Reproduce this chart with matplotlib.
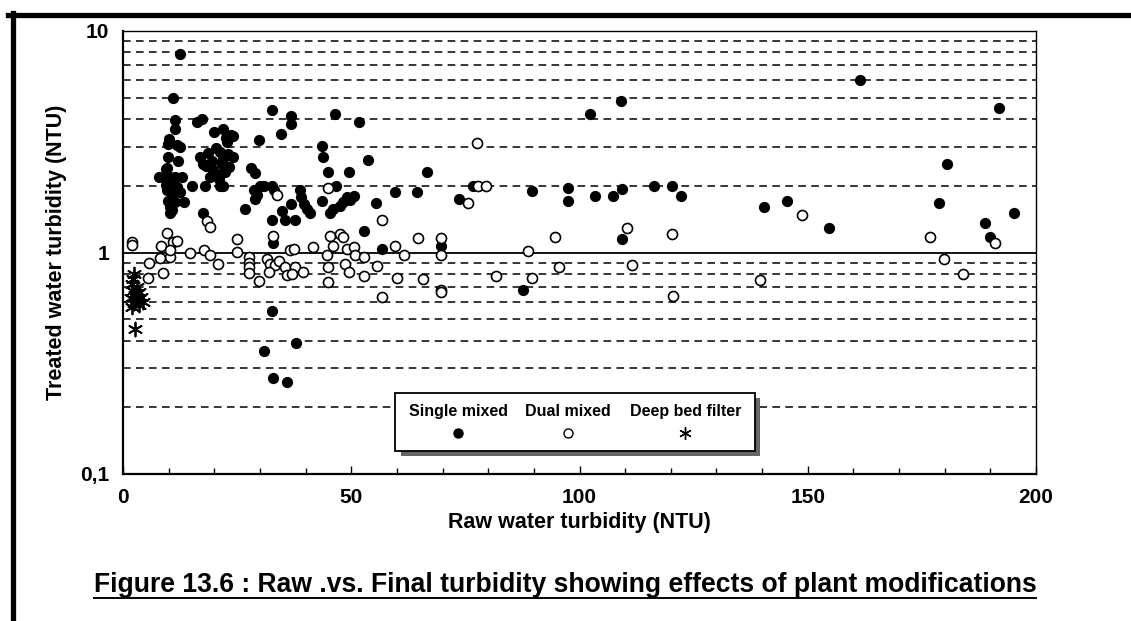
import numpy as np
import matplotlib
matplotlib.use('Agg')
import matplotlib.pyplot as plt
from matplotlib.ticker import LogLocator, MultipleLocator, NullFormatter
from matplotlib.patches import Rectangle
from matplotlib.lines import Line2D

plt.rcParams['font.family'] = ['Liberation Sans', 'DejaVu Sans']
plt.rcParams['font.weight'] = 'bold'

# --- data (raw NTU, treated NTU) ---
single_x = [12.5, 10.9, 11.5, 11.3, 16.2, 17.2, 32.7, 36.7, 36.7, 34.7, 29.8, 46.5, 51.6,
            10.0, 9.9, 12.5, 11.8, 9.9, 12.1, 9.6, 9.4, 7.8, 9.9, 11.4, 12.9, 11.0, 9.9,
            9.5, 10.3, 11.8, 9.6, 12.4, 10.7, 9.9, 11.0, 11.4, 13.4, 10.4, 10.7, 10.3,
            15.2, 18.0, 21.3, 22.0, 17.5, 16.9, 18.6, 19.5, 20.3, 21.2, 22.0, 23.0, 24.0,
            18.2, 19.8, 21.6, 23.2, 20.5, 22.4, 19.0, 21.0, 17.6, 20.0, 21.8, 22.6, 23.6,
            24.2, 22.8, 28.0, 28.9, 26.8, 28.6, 30.0, 30.8, 32.6, 29.3, 28.9, 33.0, 32.7,
            34.8, 35.5, 37.7, 36.8, 38.7, 39.1, 39.7, 40.2, 40.9, 43.6, 43.8, 44.8, 43.7,
            45.4, 46.1, 47.6, 48.3, 49.0, 50.5, 49.8, 46.7, 49.6, 53.6, 55.5, 59.6, 64.5,
            66.6, 52.7, 56.7, 32.8, 69.7, 73.5, 76.6, 89.5, 97.5, 97.5, 87.6, 102.4, 109.2,
            103.4, 107.4, 109.4, 116.3, 120.3, 122.3, 109.4, 140.4, 145.5, 154.7, 161.5,
            178.7, 180.6, 188.9, 190.0, 191.9, 195.1, 32.7, 37.8, 30.9, 32.9, 36.0]
single_y = [7.9, 5.0, 3.95, 3.62, 3.9, 4.0, 4.42, 4.13, 3.79, 3.41, 3.21, 4.23, 3.90,
            3.27, 3.10, 3.0, 3.05, 2.69, 2.6, 2.40, 2.38, 2.20, 2.22, 2.19, 2.19, 2.09, 2.11,
            2.02, 1.97, 1.97, 1.91, 1.87, 1.81, 1.70, 1.70, 1.69, 1.69, 1.60, 1.55, 1.50,
            1.99, 1.99, 1.99, 1.99, 1.50, 2.71, 2.80, 2.60, 2.95, 2.85, 2.65, 2.78, 2.70,
            2.45, 2.35, 2.50, 2.42, 2.25, 2.30, 2.20, 2.15, 2.50, 3.49, 3.62, 3.30, 3.40,
            3.35, 3.15, 2.40, 2.29, 1.57, 1.91, 1.99, 1.99, 1.99, 1.81, 1.75, 1.91, 1.40,
            1.54, 1.40, 1.40, 1.66, 1.91, 1.78, 1.66, 1.57, 1.50, 3.02, 2.70, 2.31, 1.71,
            1.50, 1.57, 1.63, 1.69, 1.78, 1.80, 1.72, 2.0, 2.30, 2.62, 1.67, 1.87, 1.87,
            2.30, 1.25, 1.04, 1.10, 1.07, 1.74, 2.0, 1.89, 1.96, 1.70, 0.68, 4.2, 4.82,
            1.79, 1.80, 1.93, 1.99, 2.0, 1.80, 1.15, 1.60, 1.71, 1.29, 6.03,
            1.67, 2.5, 1.36, 1.17, 4.50, 1.50, 0.547, 0.39, 0.361, 0.271, 0.26]

dual_x = [1.9, 1.9, 9.6, 8.3, 11.0, 11.8, 10.3, 10.2, 5.7, 8.0, 8.7, 5.5, 14.7, 17.8, 19.1,
          20.9, 24.9, 24.9, 27.7, 27.7, 27.7, 27.7, 29.9, 31.5, 32.2, 33.3, 34.1, 35.5, 36.5,
          37.4, 37.7, 35.9, 37.0, 39.5, 32.0, 32.8, 41.7, 45.4, 46.1, 47.6, 48.3, 49.0, 50.5,
          50.9, 44.7, 45.0, 45.0, 48.7, 49.4, 52.7, 52.7, 55.6, 56.7, 59.6, 60.0, 56.7, 18.3,
          19.0, 33.8, 44.8, 61.6, 64.6, 65.7, 69.7, 69.7, 69.7, 69.7, 75.6, 77.6, 77.8, 79.5,
          81.6, 88.7, 89.6, 94.6, 95.5, 110.4, 111.4, 120.3, 120.5, 139.5, 148.7, 176.7,
          179.8, 183.9, 191.0]
dual_y = [1.11, 1.08, 1.23, 1.075, 1.11, 1.13, 0.95, 1.03, 0.90, 0.94, 0.81, 0.765, 0.99,
          1.03, 0.97, 0.89, 1.15, 1.01, 0.95, 0.90, 0.86, 0.81, 0.74, 0.936, 0.89, 0.88,
          0.92, 0.86, 1.03, 1.04, 0.86, 0.79, 0.80, 0.82, 0.815, 1.19, 1.06, 1.19, 1.075,
          1.21, 1.17, 1.04, 1.06, 0.97, 0.97, 0.86, 0.735, 0.89, 0.815, 0.95, 0.78, 0.865,
          0.63, 1.065, 0.77, 1.40, 1.39, 1.31, 1.81, 1.95, 0.97, 1.16, 0.76, 1.16, 0.97,
          0.674, 0.66, 1.68, 3.11, 2.0, 2.0, 0.78, 1.02, 0.765, 1.18, 0.858, 1.29, 0.876,
          1.21, 0.637, 0.753, 1.48, 1.18, 0.933, 0.80, 1.10]

deep_x = [2.5, 2.2, 2.0, 3.0, 2.2, 3.4, 2.6, 4.0, 1.8, 3.0, 4.4, 2.4, 3.6, 2.0, 2.6]
deep_y = [0.80, 0.76, 0.72, 0.70, 0.67, 0.66, 0.64, 0.63, 0.62, 0.61, 0.60, 0.59, 0.58,
          0.57, 0.45]

series_names = ['Single mixed', 'Dual mixed', 'Deep bed filter']
x_ticks = [0, 50, 100, 150, 200]
y_ticks = [0.1, 1, 10]
y_tick_labels = ['0,1', '1', '10']

W, H = 1131, 621
fig = plt.figure(figsize=(W / 100, H / 100), dpi=100)
ax = fig.add_axes([123 / W, 1 - 474 / H, 913 / W, 443 / H])

ax.set_yscale('log')
ax.set_xlim(0, 200)
ax.set_ylim(0.1, 10)

# dashed grid at 2..9 of each decade, solid line at 1
ax.yaxis.set_minor_locator(LogLocator(base=10, subs=np.arange(2, 10)))
ax.yaxis.set_minor_formatter(NullFormatter())
ax.yaxis.grid(True, which='minor', linestyle=(0, (5, 3.5)), color='black', lw=1.1)
ax.axhline(1, color='black', lw=1.3, zorder=2)

ax.set_yticks(y_ticks)
ax.set_yticklabels(y_tick_labels)
ax.tick_params(axis='y', which='both', length=0, pad=10, labelsize=15)

ax.set_xticks(x_ticks)
ax.xaxis.set_minor_locator(MultipleLocator(10))
ax.tick_params(axis='x', which='major', direction='in', length=6, width=1, pad=10, labelsize=15)
ax.tick_params(axis='x', which='minor', direction='in', length=4, width=1)

for side in ['left', 'bottom']:
    ax.spines[side].set_linewidth(1.6)
for side in ['top', 'right']:
    ax.spines[side].set_linewidth(1.0)

ax.scatter(single_x, single_y, s=50, c='black', zorder=3)
ax.scatter(dual_x, dual_y, s=52, facecolors='white', edgecolors='black', linewidths=1.2, zorder=3)
ax.scatter(deep_x, deep_y, s=100, marker=(6, 2, 0), c='black', linewidths=1.3, zorder=3)

ax.set_xlabel('Raw water turbidity (NTU)', fontsize=15.5, fontweight='bold', labelpad=4)
ax.set_ylabel('Treated water turbidity (NTU)', fontsize=15.5, fontweight='bold', labelpad=9)

# legend box: labels above markers, with a drop shadow
lx0, lx1 = 0.298, 0.692
ly0, ly1 = 0.052, 0.183
ax.add_patch(Rectangle((lx0 + 0.006, ly0 - 0.012), lx1 - lx0, ly1 - ly0, transform=ax.transAxes,
                       facecolor='0.4', edgecolor='none', zorder=4))
ax.add_patch(Rectangle((lx0, ly0), lx1 - lx0, ly1 - ly0, transform=ax.transAxes,
                       facecolor='white', edgecolor='black', lw=1.3, zorder=5))
key_x = [0.367, 0.487, 0.616]
key_style = [dict(marker='o', color='black', markersize=6.5),
             dict(marker='o', markerfacecolor='white', markeredgecolor='black', markersize=6.5,
                  markeredgewidth=1.0),
             dict(marker=(6, 2, 0), color='black', markersize=9, markeredgewidth=1.0)]
for kx, name, st in zip(key_x, series_names, key_style):
    ax.text(kx, 0.142, name, transform=ax.transAxes, ha='center', va='center',
            fontsize=11.5, fontweight='bold', zorder=6)
    ax.plot([kx], [0.093], transform=ax.transAxes, linestyle='none', zorder=6, **st)

title = fig.text(0.4995, 1 - 585 / H,
                 'Figure 13.6 : Raw .vs. Final turbidity showing effects of plant modifications',
                 ha='center', va='center', fontsize=19.1, fontweight='bold')

# underline under the caption
fig.canvas.draw()
bb = title.get_window_extent()
fig.add_artist(Line2D([bb.x0 / W, bb.x1 / W], [1 - 598 / H] * 2, color='black', lw=1.4,
                      transform=fig.transFigure))

# thick page frame (top and left edges)
fig.add_artist(Line2D([8 / W, 1], [1 - 14.5 / H] * 2, color='black', lw=3.8,
                      transform=fig.transFigure))
fig.add_artist(Line2D([12.5 / W] * 2, [0, 1 - 12.5 / H], color='black', lw=3.8,
                      transform=fig.transFigure))

fig.savefig('out.png', dpi=100)
